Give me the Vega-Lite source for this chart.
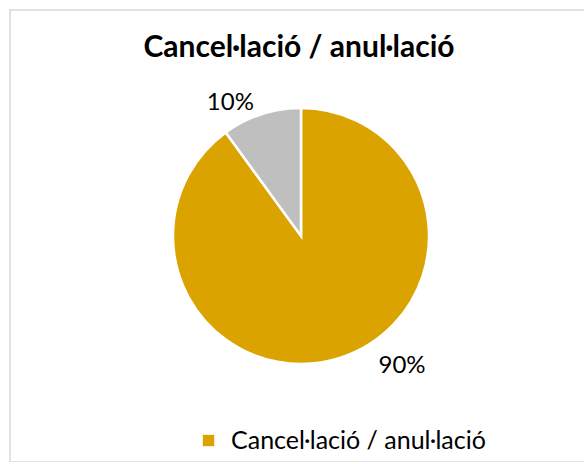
{
  "$schema": "https://vega.github.io/schema/vega-lite/v6.json",
  "width": 582,
  "height": 452,
  "autosize": {"type": "none"},
  "padding": {"left": 10, "top": 10, "right": 0, "bottom": 0},
  "background": "white",
  "view": {"stroke": "#d9d9d9", "strokeWidth": 1.5, "fill": "white"},
  "config": {
    "font": "Lato"
  },
  "title": {
    "text": "Cancel·lació / anul·lació",
    "font": "Lato",
    "fontSize": 30,
    "fontWeight": "bold",
    "color": "#000000",
    "anchor": "middle",
    "frame": "group",
    "baseline": "alphabetic",
    "offset": -77,
    "dx": -2
  },
  "data": {
    "values": [
      {"categoria": "Cancel·lació / anul·lació", "valor": 90, "etiqueta": "90%", "ordre": 1},
      {"categoria": "Altres", "valor": 10, "etiqueta": "10%", "ordre": 2}
    ]
  },
  "encoding": {
    "theta": {"field": "valor", "type": "quantitative", "stack": true},
    "order": {"field": "ordre", "type": "quantitative"}
  },
  "layer": [
    {
      "mark": {"type": "arc", "outerRadius": 128, "stroke": "white", "strokeWidth": 2.5},
      "encoding": {
        "color": {
          "field": "categoria",
          "type": "nominal",
          "scale": {
            "domain": ["Cancel·lació / anul·lació", "Altres"],
            "range": ["#DAA300", "#BFBFBF"]
          },
          "legend": {
            "values": ["Cancel·lació / anul·lació"],
            "title": null,
            "orient": "none",
            "legendX": 186,
            "legendY": 418,
            "symbolType": "square",
            "symbolSize": 130,
            "symbolStrokeWidth": 0,
            "labelFont": "Lato",
            "labelFontSize": 25,
            "labelColor": "#000000",
            "labelOffset": 10,
            "labelLimit": 0
          }
        }
      }
    },
    {
      "mark": {"type": "text", "radius": 151, "dx": -24, "dy": 11, "font": "Lato", "fontSize": 24, "color": "#000000", "align": "center", "baseline": "middle"},
      "encoding": {
        "text": {"condition": {"test": "datum.ordre === 2", "field": "etiqueta"}, "value": ""}
      }
    },
    {
      "mark": {"type": "text", "radius": 165, "dx": 50, "dy": -27, "font": "Lato", "fontSize": 24, "color": "#000000", "align": "center", "baseline": "middle"},
      "encoding": {
        "text": {"condition": {"test": "datum.ordre === 1", "field": "etiqueta"}, "value": ""}
      }
    }
  ]
}
